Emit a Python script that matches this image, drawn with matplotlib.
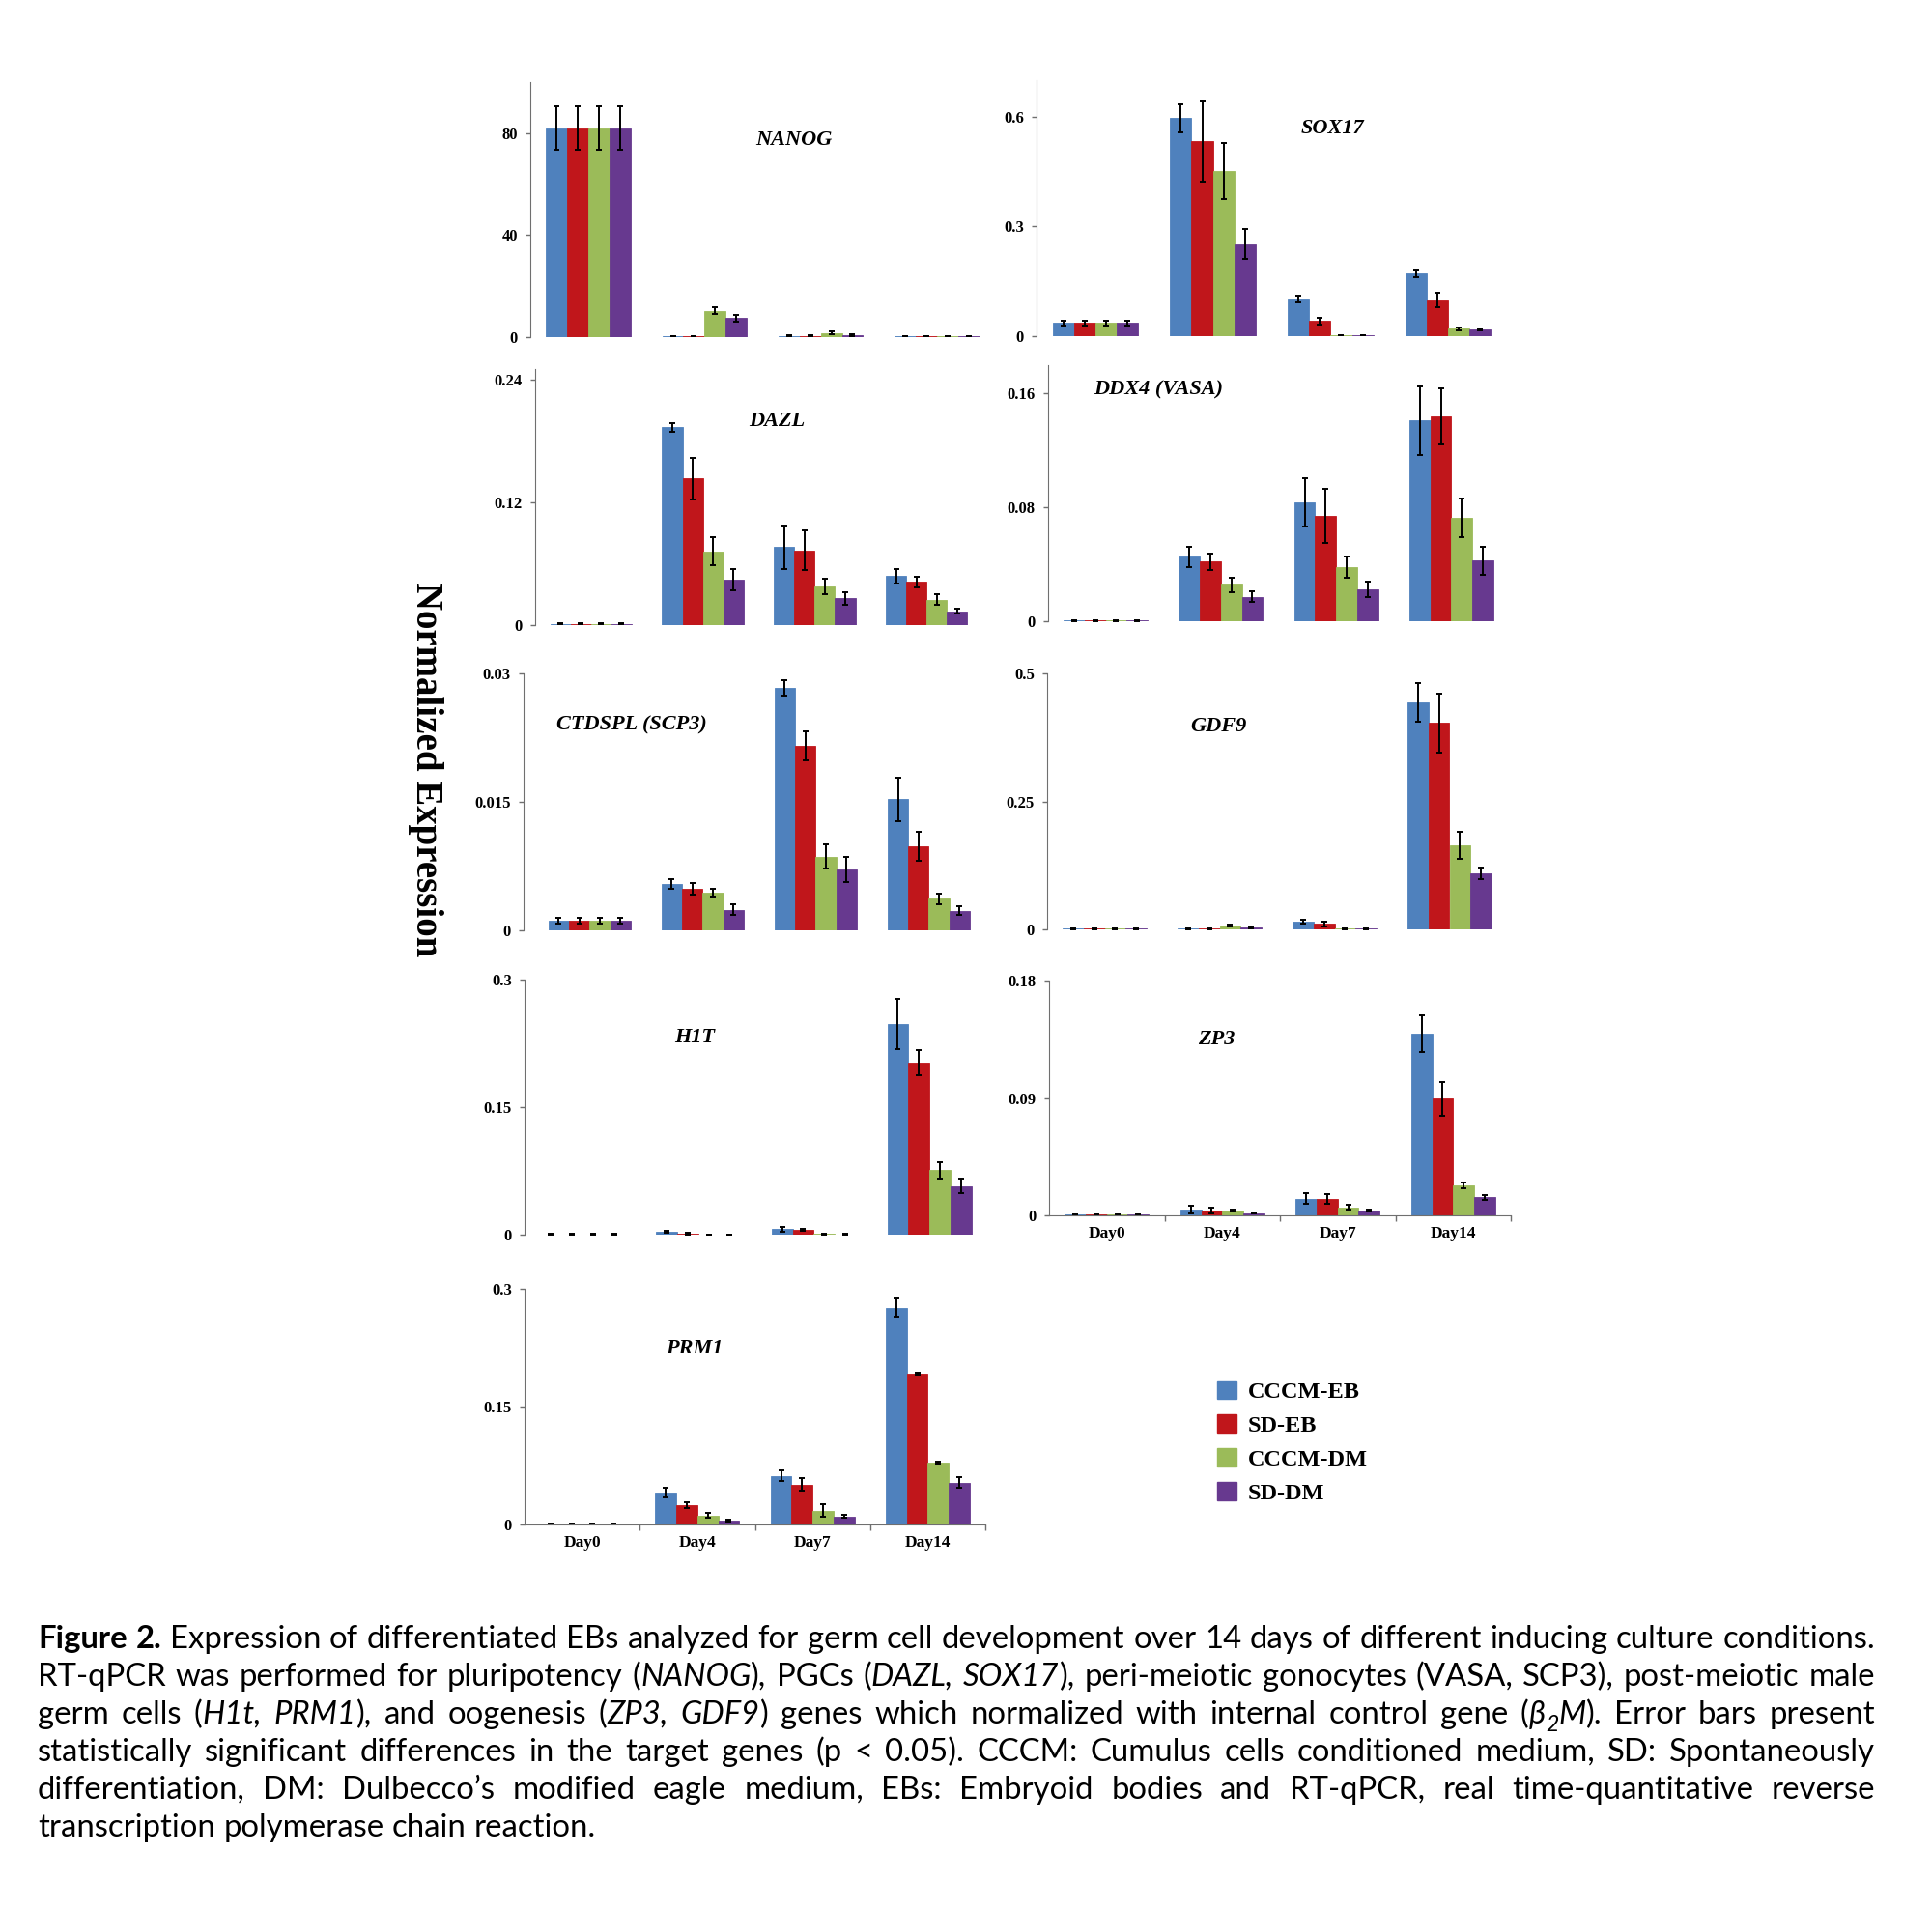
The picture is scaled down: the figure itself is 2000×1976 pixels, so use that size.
import numpy as np
import matplotlib
matplotlib.use("Agg")
import matplotlib.pyplot as plt
from matplotlib.patches import Patch

W, H = 2000, 1976

days = ["Day0", "Day4", "Day7", "Day14"]
groups = ["CCCM-EB", "SD-EB", "CCCM-DM", "SD-DM"]
colors = ["#4F81BD", "#C0161B", "#9BBB59", "#67398F"]

# rows = groups (CCCM-EB, SD-EB, CCCM-DM, SD-DM), columns = days
nanog = [[82, 0.3, 0.5, 0.3], [82, 0.3, 0.5, 0.3], [82, 10.4, 1.6, 0.3], [82, 7.4, 0.7, 0.3]]
nanog_err = [[8.6, 0.1, 0.3, 0.1], [8.6, 0.1, 0.3, 0.1], [8.6, 1.2, 0.6, 0.1], [8.6, 1.3, 0.3, 0.1]]

sox17 = [[0.036, 0.596, 0.101, 0.172], [0.036, 0.533, 0.042, 0.099],
         [0.036, 0.451, 0.002, 0.020], [0.036, 0.252, 0.002, 0.018]]
sox17_err = [[0.007, 0.038, 0.009, 0.011], [0.007, 0.11, 0.009, 0.019],
             [0.007, 0.077, 0.0005, 0.005], [0.007, 0.04, 0.0005, 0.003]]

dazl = [[0.001, 0.193, 0.076, 0.048], [0.001, 0.143, 0.073, 0.042],
        [0.001, 0.072, 0.038, 0.025], [0.001, 0.044, 0.026, 0.0135]]
dazl_err = [[0.0005, 0.0045, 0.021, 0.007], [0.0005, 0.02, 0.019, 0.005],
            [0.0005, 0.0135, 0.0076, 0.005], [0.0005, 0.0105, 0.006, 0.0025]]

ddx4 = [[0.0006, 0.0453, 0.0837, 0.141], [0.0006, 0.0419, 0.074, 0.144],
        [0.0006, 0.0256, 0.0382, 0.0726], [0.0006, 0.0172, 0.0224, 0.0425]]
ddx4_err = [[0.0003, 0.0072, 0.017, 0.024], [0.0003, 0.0057, 0.019, 0.020],
            [0.0003, 0.005, 0.0074, 0.0137], [0.0003, 0.0036, 0.0052, 0.0098]]

ctdspl = [[0.00113, 0.00543, 0.0283, 0.0153], [0.00113, 0.00486, 0.0215, 0.0098],
          [0.00113, 0.00437, 0.0086, 0.0037], [0.00113, 0.0024, 0.0071, 0.0023]]
ctdspl_err = [[0.0003, 0.0006, 0.0009, 0.0025], [0.0003, 0.0007, 0.0017, 0.0017],
              [0.0003, 0.00043, 0.0014, 0.0006], [0.0003, 0.0006, 0.0015, 0.0005]]

gdf9 = [[0.001, 0.001, 0.015, 0.444], [0.001, 0.001, 0.011, 0.403],
        [0.001, 0.007, 0.001, 0.164], [0.001, 0.004, 0.001, 0.109]]
gdf9_err = [[0.0005, 0.0005, 0.004, 0.038], [0.0005, 0.0005, 0.005, 0.057],
            [0.0005, 0.002, 0.0005, 0.026], [0.0005, 0.002, 0.0005, 0.011]]

h1t = [[0.0005, 0.003, 0.0064, 0.248], [0.0005, 0.0015, 0.0057, 0.202],
       [0.0005, 0.0003, 0.001, 0.0758], [0.0005, 0.0003, 0.0005, 0.057]]
h1t_err = [[0.0002, 0.001, 0.0025, 0.0296], [0.0002, 0.001, 0.0015, 0.015],
           [0.0002, 0.0001, 0.0005, 0.0099], [0.0002, 0.0001, 0.0002, 0.0085]]

zp3 = [[0.0005, 0.0044, 0.0128, 0.139], [0.0005, 0.0037, 0.0128, 0.0893],
       [0.0005, 0.0037, 0.0062, 0.0229], [0.0005, 0.0015, 0.0037, 0.014]]
zp3_err = [[0.0003, 0.0028, 0.004, 0.014], [0.0003, 0.002, 0.0037, 0.013],
           [0.0003, 0.0005, 0.0019, 0.0025], [0.0003, 0.0003, 0.0005, 0.0018]]

prm1 = [[0.0005, 0.0407, 0.062, 0.2758], [0.0005, 0.0247, 0.051, 0.1915],
        [0.0005, 0.0115, 0.0177, 0.0789], [0.0005, 0.0053, 0.0103, 0.0534]]
prm1_err = [[0.0003, 0.0058, 0.0072, 0.0113], [0.0003, 0.004, 0.0085, 0.001],
            [0.0003, 0.003, 0.0078, 0.001], [0.0003, 0.001, 0.0015, 0.0064]]

gene_names = ["NANOG", "SOX17", "DAZL", "DDX4 (VASA)", "CTDSPL (SCP3)", "GDF9", "H1T", "ZP3", "PRM1"]
y_ticks = [[0, 40, 80], [0, 0.3, 0.6], [0, 0.12, 0.24], [0, 0.08, 0.16], [0, 0.015, 0.03],
           [0, 0.25, 0.5], [0, 0.15, 0.3], [0, 0.09, 0.18], [0, 0.15, 0.3]]
y_ticklabels = [["0", "40", "80"], ["0", "0.3", "0.6"], ["0", "0.12", "0.24"], ["0", "0.08", "0.16"],
                ["0", "0.015", "0.03"], ["0", "0.25", "0.5"], ["0", "0.15", "0.3"],
                ["0", "0.09", "0.18"], ["0", "0.15", "0.3"]]
y_top = [100, 0.7, 0.25, 0.18, 0.03, 0.5, 0.3, 0.18, 0.3]

caption_lines = [
    "**Figure 2.** Expression of differentiated EBs analyzed for germ cell development over 14 days of different inducing culture conditions.",
    "RT-qPCR was performed for pluripotency (*NANOG*), PGCs (*DAZL, SOX17*), peri-meiotic gonocytes (VASA, SCP3), post-meiotic male",
    "germ cells (*H1t, PRM1*), and oogenesis (*ZP3, GDF9*) genes which normalized with internal control gene (*\u03b2~2~M*). Error bars present",
    "statistically significant differences in the target genes (p < 0.05). CCCM: Cumulus cells conditioned medium, SD: Spontaneously",
    "differentiation, DM: Dulbecco\u2019s modified eagle medium, EBs: Embryoid bodies and RT-qPCR, real time-quantitative reverse",
    "transcription polymerase chain reaction.",
]

means = [nanog, sox17, dazl, ddx4, ctdspl, gdf9, h1t, zp3, prm1]
errs = [nanog_err, sox17_err, dazl_err, ddx4_err, ctdspl_err, gdf9_err, h1t_err, zp3_err, prm1_err]

# layout in pixels: left, top, right, bottom of each plot area
boxes = [(549, 85, 1030, 349), (1073, 83, 1560, 348),
         (554, 382, 1017, 647), (1085, 378, 1562, 643),
         (542, 697, 1020, 963), (1084, 697, 1560, 962),
         (543, 1014, 1022, 1278), (1086, 1015, 1564, 1258),
         (543, 1334, 1020, 1578)]
x_left = [-0.5, -0.5, -0.5, -0.5, -0.584, -0.5, -0.5, -0.5, -0.5]
title_pos = [(822, 145), (1379, 133), (804, 436), (1199, 403), (654, 750),
             (1261, 752), (719, 1074), (1259, 1076), (719, 1396)]
with_xaxis = [False, False, False, False, False, False, False, True, True]

serif = "Liberation Serif"
axis_gray = "#6f6f6f"

fig = plt.figure(figsize=(W / 100, H / 100), dpi=100)
fig.patch.set_facecolor("white")

x = np.arange(len(days))
bw = 0.182
for k in range(len(gene_names)):
    l, t, r, b = boxes[k]
    ax = fig.add_axes([l / W, 1 - b / H, (r - l) / W, (b - t) / H])
    for i in range(len(groups)):
        ax.bar(x + (i - 1.5) * bw, means[k][i], bw, color=colors[i], edgecolor=colors[i],
               linewidth=0.6, yerr=errs[k][i],
               error_kw=dict(ecolor="black", elinewidth=1.4, capsize=2.5, capthick=1.4))
    ax.set_xlim(x_left[k], 3.5)
    ax.set_ylim(0, y_top[k])
    ax.set_yticks(y_ticks[k])
    ax.set_yticklabels(y_ticklabels[k], fontfamily=serif, fontweight="bold", fontsize=12)
    ax.tick_params(axis="y", direction="out", length=3.5, width=1, color=axis_gray, pad=6)
    for s in ["top", "right"]:
        ax.spines[s].set_visible(False)
    ax.spines["left"].set_color(axis_gray)
    if with_xaxis[k]:
        ax.spines["bottom"].set_color(axis_gray)
        ax.set_xticks(x)
        ax.set_xticklabels(days, fontfamily=serif, fontweight="bold", fontsize=12.5)
        ax.set_xticks([0.5, 1.5, 2.5, 3.5], minor=True)
        ax.tick_params(axis="x", which="major", length=0, pad=8)
        ax.tick_params(axis="x", which="minor", direction="out", length=4, width=1, color=axis_gray)
    else:
        ax.spines["bottom"].set_visible(False)
        ax.set_xticks([])
    fig.text(title_pos[k][0] / W, 1 - title_pos[k][1] / H, gene_names[k], ha="center", va="center",
             fontfamily=serif, fontweight="bold", fontstyle="italic", fontsize=16)

fig.text(440 / W, 1 - 797 / H, "Normalized Expression", rotation=270, ha="center", va="center",
         fontfamily=serif, fontweight="bold", fontsize=28)

handles = [Patch(facecolor=c, edgecolor=c) for c in colors]
fig.legend(handles, groups, loc="upper left", bbox_to_anchor=(1260 / W, 1 - 1429 / H),
           frameon=False, prop=dict(family=serif, weight="bold", size=17.5),
           handlelength=0.82, handleheight=0.82, handletextpad=0.5, labelspacing=0.5,
           borderpad=0, borderaxespad=0)


# caption: **bold**, *italic*, ~sub~ ; lines are justified except the last
def parse_line(line):
    words, cur, buf = [], [], ""
    bold = ital = sub = False
    i = 0
    while i < len(line):
        if line.startswith("**", i):
            if buf:
                cur.append((buf, bold, ital, sub))
                buf = ""
            bold = not bold
            i += 2
            continue
        c = line[i]
        if c in "*~":
            if buf:
                cur.append((buf, bold, ital, sub))
                buf = ""
            if c == "*":
                ital = not ital
            else:
                sub = not sub
        elif c == " ":
            if buf:
                cur.append((buf, bold, ital, sub))
                buf = ""
            if cur:
                words.append(cur)
                cur = []
        else:
            buf += c
        i += 1
    if buf:
        cur.append((buf, bold, ital, sub))
    if cur:
        words.append(cur)
    return words


renderer = fig.canvas.get_renderer()
cap_font = ["Lato", "DejaVu Sans"]
cap_x0, cap_x1 = 39, 1941
cap_base, cap_lead = 1706, 39.0


def make_text(s, size, bold=False, ital=False):
    return fig.text(0, 0, s, fontsize=size, family=cap_font, ha="left", va="baseline",
                    fontweight="bold" if bold else "normal",
                    fontstyle="italic" if ital else "normal")


def measure_words(words, size):
    placed, widths = [], []
    for wd in words:
        parts = []
        for s, b, it, sb in wd:
            tx = make_text(s, size * (0.7 if sb else 1), b, it)
            parts.append((tx, tx.get_window_extent(renderer).width, sb))
        placed.append(parts)
        widths.append(sum(p[1] for p in parts))
    return placed, widths


def space_width(size):
    t1 = make_text("a a", size)
    t2 = make_text("aa", size)
    w = t1.get_window_extent(renderer).width - t2.get_window_extent(renderer).width
    t1.remove()
    t2.remove()
    return w


# pick the size so that the first line fills the width with plain spaces
first = parse_line(caption_lines[0])
placed, widths = measure_words(first, 20)
natural = sum(widths) + space_width(20) * (len(first) - 1)
for parts in placed:
    for p in parts:
        p[0].remove()
cap_size = 20 * (cap_x1 - cap_x0 - 2) / natural
space_w = space_width(cap_size)

for n, line in enumerate(caption_lines):
    y = cap_base + n * cap_lead
    words = parse_line(line)
    placed, widths = measure_words(words, cap_size)
    if n < len(caption_lines) - 1:
        gap = (cap_x1 - cap_x0 - sum(widths)) / (len(words) - 1)
    else:
        gap = space_w
    xpos = cap_x0
    for parts, wsum in zip(placed, widths):
        xx = xpos
        for tx, wpx, sb in parts:
            yy = y + (cap_size * 100 / 72 * 0.25 if sb else 0)
            tx.set_position((xx / W, 1 - yy / H))
            xx += wpx
        xpos += wsum + gap

fig.savefig("out.png", dpi=100, facecolor="white")
